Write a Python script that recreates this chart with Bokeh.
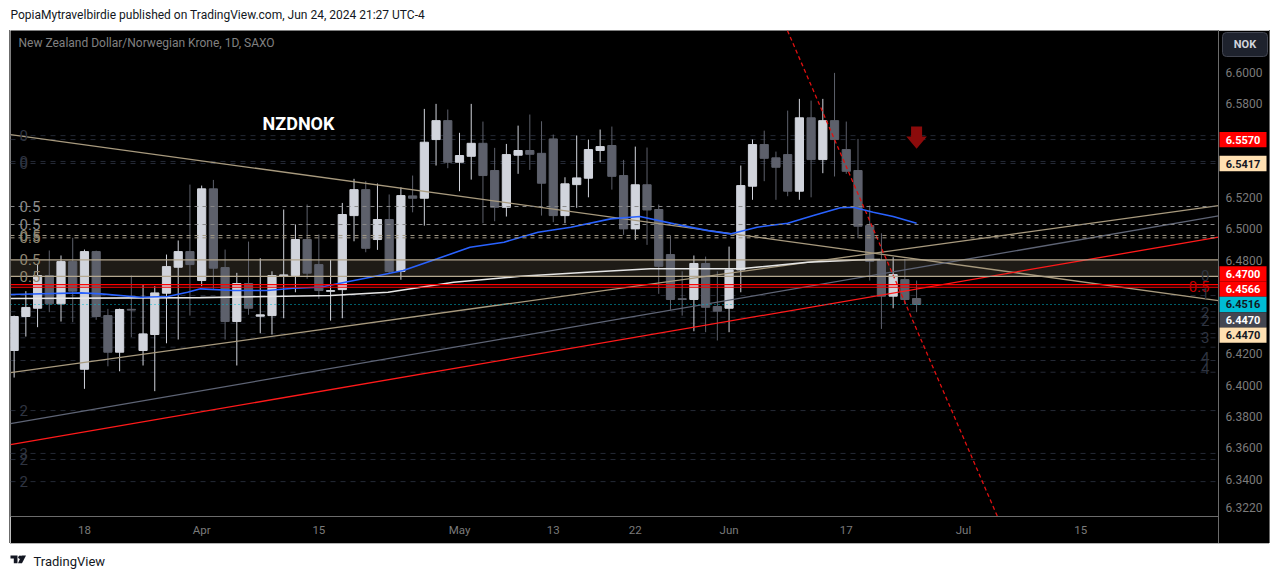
import numpy as np
import pandas as pd
from bokeh.plotting import figure
from bokeh.models import (Range1d, FixedTicker, Label, Span, BoxAnnotation,
                          NumeralTickFormatter, ColumnDataSource)
from bokeh.core.properties import value
from bokeh.layouts import column, row
from bokeh.embed import file_html
from bokeh.resources import INLINE

# ---------------- data ----------------
first_day = "2024-03-08"
opens = [6.4222, 6.4439, 6.4492, 6.4701, 6.4520, 6.4790, 6.4102, 6.4854, 6.4445, 6.4211,
         6.4485, 6.4222, 6.4324, 6.4588, 6.4754, 6.4854, 6.4669, 6.5255, 6.4752, 6.4407,
         6.4650, 6.4441, 6.4445, 6.4699, 6.4701, 6.4931, 6.4771, 6.4600, 6.4611, 6.5084,
         6.5250, 6.4931, 6.5059, 6.4727, 6.5210, 6.5195, 6.5570, 6.5691, 6.5425, 6.5463,
         6.5546, 6.5372, 6.5137, 6.5470, 6.5500, 6.5482, 6.5574, 6.5084, 6.5282, 6.5323,
         6.5500, 6.5532, 6.5340, 6.4999, 6.5281, 6.5123, 6.4835, 6.4553, 6.4548, 6.4778,
         6.4503, 6.4492, 6.4737, 6.5272, 6.5538, 6.5453, 6.5474, 6.5240, 6.5709, 6.5442,
         6.5691, 6.5506, 6.5372, 6.5020, 6.4797, 6.4569, 6.4675, 6.4554]
highs = [6.4445, 6.4601, 6.4776, 6.4861, 6.4829, 6.4942, 6.4867, 6.4860, 6.4488, 6.4490,
         6.4701, 6.4643, 6.4633, 6.4835, 6.4925, 6.5282, 6.5276, 6.5312, 6.4867, 6.4718,
         6.4918, 6.4811, 6.4728, 6.5123, 6.5027, 6.5155, 6.4963, 6.4801, 6.5165, 6.5319,
         6.5304, 6.5289, 6.5219, 6.5265, 6.5340, 6.5766, 6.5798, 6.5762, 6.5613, 6.5798,
         6.5685, 6.5517, 6.5542, 6.5659, 6.5730, 6.5687, 6.5602, 6.5329, 6.5596, 6.5570,
         6.5634, 6.5653, 6.5440, 6.5525, 6.5519, 6.5155, 6.4957, 6.4728, 6.4829, 6.4822,
         6.4728, 6.4886, 6.5404, 6.5570, 6.5627, 6.5493, 6.5755, 6.5830, 6.5819, 6.5830,
         6.5996, 6.5685, 6.5574, 6.5148, 6.4971, 6.4818, 6.4808, 6.4669]
lows = [6.4049, 6.4311, 6.4371, 6.4467, 6.4407, 6.4403, 6.3977, 6.4418, 6.4121, 6.4089,
        6.4307, 6.4126, 6.3962, 6.4268, 6.4292, 6.4445, 6.4633, 6.4616, 6.4292, 6.4126,
        6.4450, 6.4332, 6.4324, 6.4428, 6.4594, 6.4680, 6.4552, 6.4413, 6.4428, 6.4920,
        6.4850, 6.4865, 6.4716, 6.4674, 6.5105, 6.5020, 6.5404, 6.5387, 6.5240, 6.5314,
        6.5035, 6.5048, 6.5078, 6.5351, 6.5376, 6.5084, 6.5042, 6.5035, 6.5134, 6.5201,
        6.5425, 6.5250, 6.4961, 6.4929, 6.4897, 6.4584, 6.4482, 6.4445, 6.4345, 6.4339,
        6.4286, 6.4339, 6.4594, 6.5185, 6.5304, 6.5185, 6.5208, 6.5185, 6.5201, 6.5355,
        6.5334, 6.5351, 6.4939, 6.4669, 6.4360, 6.4492, 6.4516, 6.4467]
closes = [6.4439, 6.4497, 6.4701, 6.4520, 6.4790, 6.4601, 6.4854, 6.4439, 6.4211, 6.4484,
          6.4480, 6.4328, 6.4590, 6.4758, 6.4854, 6.4771, 6.5255, 6.4748, 6.4407, 6.4650,
          6.4492, 6.4450, 6.4701, 6.4705, 6.4931, 6.4716, 6.4605, 6.4605, 6.5091, 6.5250,
          6.4875, 6.5059, 6.4727, 6.5212, 6.5195, 6.5553, 6.5691, 6.5425, 6.5468, 6.5546,
          6.5340, 6.5137, 6.5474, 6.5500, 6.5476, 6.5291, 6.5084, 6.5287, 6.5325, 6.5506,
          6.5525, 6.5335, 6.4999, 6.5281, 6.5120, 6.4760, 6.4548, 6.4548, 6.4778, 6.4498,
          6.4473, 6.4737, 6.5276, 6.5538, 6.5450, 6.5393, 6.5240, 6.5709, 6.5442, 6.5691,
          6.5570, 6.5367, 6.5016, 6.4792, 6.4569, 6.4707, 6.4548, 6.4516]

# moving averages (bar position, price)
ma_blue_x = [-6.3, -0.3, 1.4, 4.8, 7.1, 8.8, 9.9, 12.7, 15.6, 17.8, 20.1, 21.6, 24.4, 27.2,
             30.1, 32.9, 35.8, 38.7, 41.5, 44.9, 47.4, 50.3, 53.2, 55.1, 57.4, 60.0, 62.2,
             64.5, 65.6, 67.3, 69.0, 71.0]
ma_blue_y = [6.4580, 6.4590, 6.4584, 6.4562, 6.4567, 6.4594, 6.4616, 6.4605, 6.4605, 6.4620,
             6.4626, 6.4648, 6.4690, 6.4733, 6.4808, 6.4882, 6.4914, 6.4978, 6.5010, 6.5063,
             6.5078, 6.5031, 6.4988, 6.4967, 6.5010, 6.5035, 6.5084, 6.5134, 6.5137, 6.5105,
             6.5078, 6.5035]
ma_white_x = [-6.3, 9.9, 21.0, 25.9, 31.5, 37.2, 42.9, 48.3, 56.0, 61.7, 66.0, 67.9]
ma_white_y = [6.4554, 6.4560, 6.4573, 6.4594, 6.4658, 6.4696, 6.4722, 6.4744, 6.4744,
              6.4786, 6.4801, 6.4803]

# trend lines: (x0, x1), (y0, y1)
tan_desc = ([-6.31, 96.76], [6.5602, 6.4541])
tan_asc = ([-6.31, 96.76], [6.4081, 6.5148])
slate_asc = ([-6.31, 96.76], [6.3755, 6.5082])
red_asc = ([-6.31, 96.76], [6.3621, 6.4946])
red_dash = ([59.98, 77.9], [6.6267, 6.3161])

# horizontal levels
gray_levels = [6.5142, 6.5027]
tan_levels = [6.4957, 6.4942]
band_levels = [6.4695, 6.4801]
red_levels = [6.4643, 6.4626]
last_price = 6.4516
dark_levels = [6.5595, 6.5570, 6.5430, 6.5417, 6.4573, 6.4470, 6.4434, 6.4396, 6.4330,
               6.4303, 6.4243, 6.4158, 6.4083, 6.3838, 6.3564, 6.3525, 6.3384]

left_texts = ["0", "0", "0", "0.5", "0.5", "0.5", "0.5", "0.5", "0.5", "2", "3", "2", "2"]
left_vals = [6.5595, 6.5430, 6.5417, 6.5142, 6.5027, 6.4957, 6.4942, 6.4801, 6.4695,
             6.3838, 6.3564, 6.3525, 6.3384]
right_texts = ["0", "0.5", "1", "2", "2", "3", "4", "4"]
right_vals = [6.4701, 6.4630, 6.4584, 6.4466, 6.4413, 6.4303, 6.4179, 6.4105]

price_tags = [6.5570, 6.5417, 6.4700, 6.4566, 6.4516, 6.4470, 6.4470]
price_tag_bg = ["#ff0000", "#ffe0b2", "#ff0000", "#ff0000", "#00bcd4", "#434651", "#ffe0b2"]
price_tag_fg = ["#ffffff", "#131722", "#ffffff", "#ffffff", "#131722", "#ffffff", "#131722"]

y_ticks = [6.60, 6.58, 6.52, 6.50, 6.48, 6.42, 6.40, 6.38, 6.36, 6.34, 6.322]
x_tick_dates = ["2024-03-18", "2024-04-01", "2024-04-15", "2024-05-01", "2024-05-13",
                "2024-05-22", "2024-06-03", "2024-06-17", "2024-07-01", "2024-07-15"]
x_tick_labels = ["18", "Apr", "15", "May", "13", "22", "Jun", "17", "Jul", "15"]

arrow_x, arrow_top, arrow_base, arrow_tip = 71, 6.5653, 6.5589, 6.5511

# ---------------- positions ----------------
axis_days = pd.bdate_range(first_day, "2024-08-30")
origin = axis_days.get_loc(pd.Timestamp("2024-03-18"))
xs = np.arange(len(opens)) - origin
tick_pos = [float(axis_days.get_loc(pd.Timestamp(d)) - origin) for d in x_tick_dates]

o = np.array(opens); h = np.array(highs); l = np.array(lows); c = np.array(closes)
up = c >= o
UP, DOWN = "#d1d4dc", "#5d606b"
cols = np.where(up, UP, DOWN)

FW, FH = 1208, 486
SCALE_W, XAX_H = 51, 27
X0, X1 = -6.31, 96.76
Y0, Y1 = 6.3161, 6.6267
ppu = FH / (Y1 - Y0)

def y_from_top(px):
    return Y1 - px / ppu

FONT = "Roboto"
AX_COL = "#7b7b7b"
EDGE = "#6b6b6b"

p = figure(frame_width=FW, frame_height=FH, x_range=Range1d(X0, X1), y_range=Range1d(Y0, Y1),
           y_axis_location="right", toolbar_location=None, output_backend="svg",
           min_border_left=0, min_border_top=0, min_border_right=SCALE_W, min_border_bottom=XAX_H,
           background_fill_color="#000000", border_fill_color="#000000",
           outline_line_color=None)
p.margin = (0, 0, 0, 2)
p.styles = {"box-shadow": f"-1px 0 0 {EDGE}, 1px 0 0 {EDGE}, 0 1px 0 {EDGE}"}
p.grid.visible = False

for ax in (p.xaxis[0], p.yaxis[0]):
    ax.axis_line_color = EDGE
    ax.major_tick_line_color = None
    ax.minor_tick_line_color = None
    ax.major_tick_out = 0
    ax.major_tick_in = 0
    ax.minor_tick_out = 0
    ax.minor_tick_in = 0
    ax.major_label_text_color = AX_COL
    ax.major_label_text_font = FONT
p.xaxis.major_label_text_font_size = "11.5px"
p.yaxis.major_label_text_font_size = "12px"
p.xaxis.ticker = FixedTicker(ticks=tick_pos)
p.xaxis.major_label_overrides = {t: s for t, s in zip(tick_pos, x_tick_labels)}
p.xaxis.major_label_standoff = 6
p.yaxis.ticker = FixedTicker(ticks=y_ticks)
p.yaxis.formatter = NumeralTickFormatter(format="0.0000")
p.yaxis.major_label_standoff = 7

# band
p.add_layout(BoxAnnotation(bottom=band_levels[0], top=band_levels[1], fill_color="#1e1b16",
                           fill_alpha=1.0, line_alpha=0, level="underlay"))

# dark dashed levels
for v in dark_levels:
    p.add_layout(Span(location=v, dimension="width", line_color="#242935", line_width=1,
                      line_dash="5 5", level="underlay"))

# candles
src = ColumnDataSource(dict(x=xs, h=h, l=l, top=np.maximum(o, c), bot=np.minimum(o, c), col=cols))
p.segment("x", "h", "x", "l", source=src, line_color="col", line_width=1)
p.vbar("x", 0.7, "top", "bot", source=src, fill_color="col", line_color="col", line_width=1)

# horizontal drawings
for v in gray_levels:
    p.add_layout(Span(location=v, dimension="width", line_color="#8a8a8a", line_width=1, line_dash="4 4"))
for v in tan_levels:
    p.add_layout(Span(location=v, dimension="width", line_color="#a39a86", line_width=1, line_dash="4 4"))
for v in band_levels:
    p.add_layout(Span(location=v, dimension="width", line_color="#b5a88f", line_width=1.2))
for v in red_levels:
    p.add_layout(Span(location=v, dimension="width", line_color="#ff0000", line_width=1.1))
p.add_layout(Span(location=last_price, dimension="width", line_color="#00bcd4", line_width=1.2,
                  line_dash="1 3"))

# trend lines
p.line(*tan_desc, line_color="#a89a7e", line_width=1.3)
p.line(*tan_asc, line_color="#a89a7e", line_width=1.3)
p.line(*slate_asc, line_color="#5e6475", line_width=1.3)
p.line(*red_asc, line_color="#ff1a1a", line_width=1.3)
p.line(*red_dash, line_color="#e01010", line_width=1.3, line_dash="4 3")

# moving averages
p.line(ma_white_x, ma_white_y, line_color="#e6e6e6", line_width=1.6)
p.line(ma_blue_x, ma_blue_y, line_color="#2962ff", line_width=1.6)

# arrow
aw, hw = 0.47, 0.88
p.patch([arrow_x - aw, arrow_x + aw, arrow_x + aw, arrow_x + hw, arrow_x, arrow_x - hw, arrow_x - aw],
        [arrow_top, arrow_top, arrow_base, arrow_base, arrow_tip, arrow_base, arrow_base],
        fill_color="#8b0b0b", line_color=None)

# fib-style labels
def lab_color(t, v):
    if t == "0.5" and v in gray_levels:
        return "#8a8a8a"
    if t == "0.5":
        return "#8f8672"
    return "#2f3440"

for t, v in zip(left_texts, left_vals):
    p.add_layout(Label(x=X0, y=v, x_offset=9, text=t, text_baseline="middle", text_align="left",
                       text_color=lab_color(t, v), text_font=FONT, text_font_size="15px"))
for t, v in zip(right_texts, right_vals):
    colr = "#c40000" if t == "0.5" else "#2f3440"
    p.add_layout(Label(x=X1, y=v, x_offset=-9, text=t, text_baseline="middle", text_align="right",
                       text_color=colr, text_font=FONT, text_font_size="15px"))

# chart title texts
p.add_layout(Label(x=X0, y=y_from_top(12), x_offset=8, text="New Zealand Dollar/Norwegian Krone, 1D, SAXO",
                   text_baseline="middle", text_color="#808080", text_font=FONT, text_font_size="12px"))
p.add_layout(Label(x=15.2, y=6.5672, text="NZDNOK", text_baseline="middle", text_color="#ffffff",
                   text_font=FONT, text_font_size="18px", text_font_style="bold"))

# ---------------- price tags, drawn over the price scale ----------------
hp = 15.3 / ppu
vals = list(price_tags)
disp = list(vals)
anchor = vals.index(last_price)
for i in range(anchor - 1, -1, -1):
    disp[i] = max(vals[i], disp[i + 1] + hp)
for i in range(anchor + 1, len(vals)):
    disp[i] = min(vals[i], disp[i - 1] - hp)

tags = figure(frame_width=SCALE_W, frame_height=FH, x_range=Range1d(0, SCALE_W), y_range=p.y_range,
              toolbar_location=None, output_backend="svg", x_axis_type=None, y_axis_type=None,
              min_border_left=0, min_border_right=0, min_border_top=0, min_border_bottom=XAX_H,
              outline_line_color=None, background_fill_alpha=0, border_fill_alpha=0)
tags.grid.visible = False
tags.styles = {"margin-left": f"-{SCALE_W}px", "box-shadow": f"inset 1px 0 0 {EDGE}"}
tsrc = ColumnDataSource(dict(txt=[f"{v:.4f}" for v in vals], y=disp,
                             top=[d + hp / 2 for d in disp], bot=[d - hp / 2 for d in disp],
                             bg=price_tag_bg, fg=price_tag_fg))
tags.quad(left=1, right=48, top="top", bottom="bot", source=tsrc, fill_color="bg", line_color=None)
tags.text(x=24.5, y="y", text="txt", source=tsrc, text_color="fg", text_align="center",
          text_baseline="middle", text_font=value(FONT), text_font_size="11px", text_font_style="bold")
nok_top, nok_bot = y_from_top(2), y_from_top(26)
try:
    tags.quad(left=4, right=49, top=nok_top, bottom=nok_bot, fill_color="#1e222d",
              line_color="#434651", line_width=1, border_radius=4)
except Exception:
    tags.quad(left=4, right=49, top=nok_top, bottom=nok_bot, fill_color="#1e222d",
              line_color="#434651", line_width=1)
tags.text(x=26.5, y=(nok_top + nok_bot) / 2, text=["NOK"], text_color="#d1d4dc", text_align="center",
          text_baseline="middle", text_font=value(FONT), text_font_size="11px", text_font_style="bold")

# header
hdr = figure(frame_width=1265, frame_height=22, x_range=Range1d(0, 1265), y_range=Range1d(0, 22),
             toolbar_location=None, output_backend="svg", x_axis_type=None, y_axis_type=None,
             min_border=0, outline_line_color=None, background_fill_color="white",
             border_fill_color="white")
hdr.grid.visible = False
hdr.add_layout(Label(x=2, y=16, text="PopiaMytravelbirdie published on TradingView.com, Jun 24, 2024 21:27 UTC-4",
                     text_baseline="middle", text_color="#131722", text_font=FONT, text_font_size="12px"))

# footer
ftr = figure(frame_width=1265, frame_height=28, x_range=Range1d(0, 1265), y_range=Range1d(0, 28),
             toolbar_location=None, output_backend="svg", x_axis_type=None, y_axis_type=None,
             min_border=0, outline_line_color=None, background_fill_color="white",
             border_fill_color="white")
ftr.grid.visible = False
ftr.patch([2, 9, 9, 5.3, 5.3, 2], [16, 16, 8.3, 8.3, 13, 13], fill_color="#131722", line_color=None)
ftr.circle([11.5], [14.3], radius=1.7, fill_color="#131722", line_color=None)
ftr.patch([13, 17.5, 13.5, 9.5], [16, 16, 8.3, 8.3], fill_color="#131722", line_color=None)
ftr.add_layout(Label(x=25, y=10, text="TradingView", text_baseline="middle", text_color="#131722",
                     text_font=FONT, text_font_size="13px"))

layout = column(hdr, row(p, tags, spacing=0), ftr, spacing=0)
layout.styles = {"margin-left": "8px", "margin-top": "8px"}
open("out.html", "w").write(file_html(layout, INLINE))
